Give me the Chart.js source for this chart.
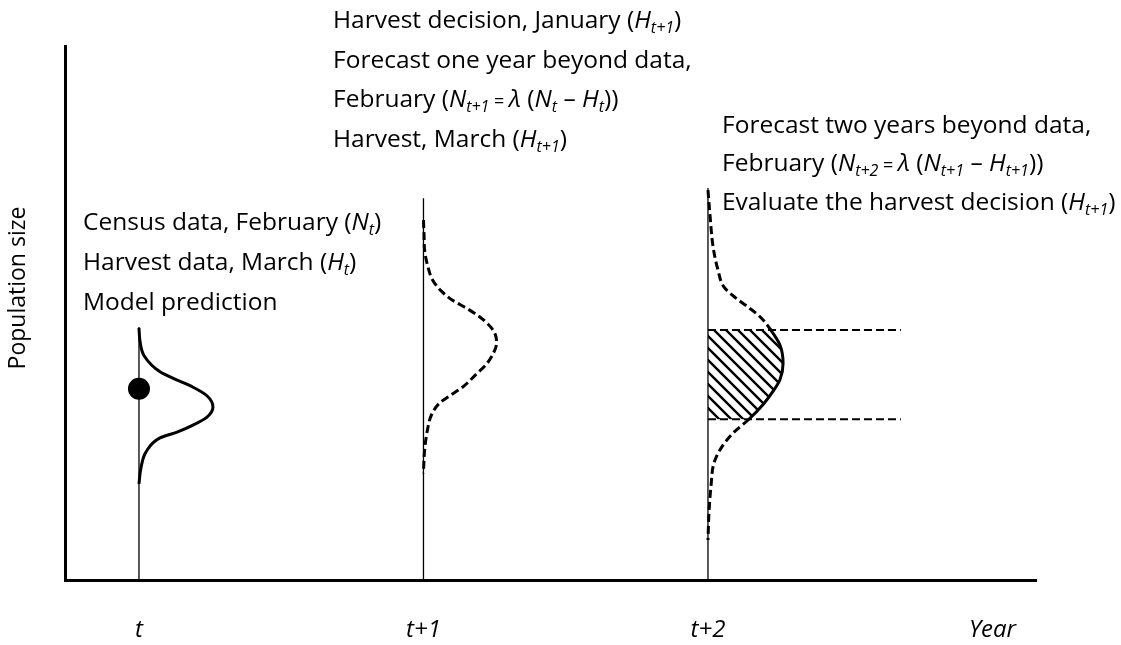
<!DOCTYPE html>
<html><head><meta charset="utf-8">
<script src="https://cdn.jsdelivr.net/npm/chart.js@4.4.0/dist/chart.umd.min.js"></script>
<style>html,body{margin:0;padding:0;background:#fff;}#wrap{width:1121px;height:645px;position:relative;}</style>
</head><body><div id="wrap"><canvas id="c" width="1121" height="645"></canvas></div>
<script>
// ---- data (x in years after t, y in population units 0..100) ----
const yearTicks = [0, 1, 2, 3];
const yearLabels = ['t', 't+1', 't+2', 'Year'];
const timeLineTops = [47.4, 71.5, 73.4];           // top of each year's vertical line
const censusPoint = [{x: 0, y: 35.8}];
const predictionX = [0, 0.004, 0.018, 0.074, 0.141, 0.19, 0.239, 0.26, 0.239, 0.19, 0.134, 0.074, 0.025, 0.007, 0];
const predictionY = [47.2, 44.6, 42.0, 39.0, 37.3, 36.1, 34.5, 32.4, 30.5, 29.0, 27.7, 26.6, 24.0, 21.0, 18.0];
const forecast1X = [1.000, 1.002, 1.004, 1.014, 1.032, 1.063, 1.102, 1.151, 1.197, 1.236, 1.253, 1.257, 1.246, 1.221, 1.183, 1.137, 1.095, 1.056, 1.028, 1.014, 1.004, 1.000];
const forecast1Y = [67.4, 64.6, 61.8, 59.0, 56.2, 54.1, 52.4, 50.9, 49.3, 47.4, 45.9, 44.4, 42.5, 40.4, 38.4, 36.1, 34.6, 33.1, 30.9, 28.1, 24.3, 20.0];
const forecast2X = [2.000, 2.007, 2.018, 2.035, 2.056, 2.098, 2.141, 2.183, 2.221, 2.253, 2.264, 2.253, 2.232, 2.193, 2.144, 2.088, 2.046, 2.021, 2.011, 2.004, 2.000];
const forecast2Y = [73.0, 68.4, 62.4, 58.1, 54.9, 52.8, 51.1, 49.3, 46.8, 44.0, 40.6, 37.5, 35.6, 32.8, 30.1, 27.5, 24.7, 21.9, 17.8, 13.1, 7.5];
const harvestBounds = [30.1, 46.8];   // lower, upper population bound of the evaluated harvest
const boundEndX = 2.678;

const toPts = (xs, ys) => xs.map((x, i) => ({x, y: ys[i]}));
const prediction = toPts(predictionX, predictionY);
const forecast1 = toPts(forecast1X, forecast1Y);
const forecast2 = toPts(forecast2X, forecast2Y);
const [lo, hi] = harvestBounds;
const hatchPoly = forecast2.filter(p => p.y >= lo - 1e-6 && p.y <= hi + 1e-6)
  .concat([{x: 2, y: lo}, {x: 2, y: hi}]);

// hatch pattern
const pc = document.createElement('canvas'); pc.width = 12; pc.height = 12;
const pg = pc.getContext('2d');
pg.strokeStyle = '#000'; pg.lineWidth = 2.4;
pg.beginPath();
pg.moveTo(-2, -2); pg.lineTo(14, 14);
pg.moveTo(10, -2); pg.lineTo(14, 2);
pg.moveTo(-2, 10); pg.lineTo(2, 14);
pg.stroke();
const hatch = pg.createPattern(pc, 'repeat');

const FONT = "'Open Sans'";
const base = {showLine: true, pointRadius: 0, pointHoverRadius: 0, borderColor: '#000', backgroundColor: '#000', fill: false};
const curve = {indexAxis: 'y', cubicInterpolationMode: 'monotone'};

const datasets = [
  Object.assign({}, base, {label: 'hatch', data: hatchPoly, borderWidth: 0, fill: 'shape', backgroundColor: hatch, tension: 0, order: 10}),
];
yearTicks.slice(0, 3).forEach((yr, i) => {
  datasets.push(Object.assign({}, base, {label: 'year' + i, data: [{x: yr, y: 0}, {x: yr, y: timeLineTops[i]}], borderWidth: 1.3, order: 6}));
});
harvestBounds.forEach((b, i) => {
  datasets.push(Object.assign({}, base, {label: 'bound' + i, data: [{x: 2, y: b}, {x: boundEndX, y: b}], borderWidth: 2, borderDash: [8, 4], order: 5}));
});
datasets.push(Object.assign({}, base, curve, {label: 'prediction', data: prediction, borderWidth: 3, order: 3}));
datasets.push(Object.assign({}, base, curve, {label: 'forecast1', data: forecast1, borderWidth: 3, borderDash: [8, 4], order: 3}));
datasets.push(Object.assign({}, base, curve, {label: 'forecast2', data: forecast2, borderWidth: 3, borderDash: [8, 4], order: 3,
  segment: {borderDash: ctx => {
    const a = ctx.p0.parsed.y, b = ctx.p1.parsed.y;
    return (Math.min(a, b) >= lo - 1e-6 && Math.max(a, b) <= hi + 1e-6) ? [] : undefined;
  }}}));
datasets.push({label: 'census', data: censusPoint, showLine: false, pointRadius: 11, pointHoverRadius: 11, backgroundColor: '#000', borderColor: '#000', borderWidth: 0, order: 1});

// ---- annotation text ----
const blocks = [
  {x: 83, baselines: [230, 270, 310], lines: [
    [['Census data, February (', ''], ['N', 'i'], ['t', 's'], [')', '']],
    [['Harvest data, March (', ''], ['H', 'i'], ['t', 's'], [')', '']],
    [['Model prediction', '']]
  ]},
  {x: 333, baselines: [28, 68, 107, 147], lines: [
    [['Harvest decision, January (', ''], ['H', 'i'], ['t+1', 's'], [')', '']],
    [['Forecast one year beyond data,', '']],
    [['February (', ''], ['N', 'i'], ['t+1', 's'], [' = ', 'e'], ['λ', 'i'], [' (', ''], ['N', 'i'], ['t', 's'], [' – ', ''], ['H', 'i'], ['t', 's'], ['))', '']],
    [['Harvest, March (', ''], ['H', 'i'], ['t+1', 's'], [')', '']]
  ]},
  {x: 722, baselines: [133, 171, 210], lines: [
    [['Forecast two years beyond data,', '']],
    [['February (', ''], ['N', 'i'], ['t+2', 's'], [' = ', 'e'], ['λ', 'i'], [' (', ''], ['N', 'i'], ['t+1', 's'], [' – ', ''], ['H', 'i'], ['t+1', 's'], ['))', '']],
    [['Evaluate the harvest decision (', ''], ['H', 'i'], ['t+1', 's'], [')', '']]
  ]}
];
const FS = 24.5;
const textPlugin = {
  id: 'texts',
  afterDraw(chart) {
    const ctx = chart.ctx;
    ctx.save();
    ctx.fillStyle = '#000';
    ctx.textBaseline = 'alphabetic';
    ctx.textAlign = 'left';
    blocks.forEach(b => {
      b.lines.forEach((line, li) => {
        let x = b.x; const y = b.baselines[li];
        line.forEach(([txt, st]) => {
          let dy = 0;
          if (st === 'i') ctx.font = 'italic ' + FS + 'px ' + FONT;
          else if (st === 's') { ctx.font = 'italic 16px ' + FONT; dy = 5; }
          else if (st === 'e') ctx.font = '18px ' + FONT;
          else ctx.font = FS + 'px ' + FONT;
          ctx.fillText(txt, x, y + dy);
          x += ctx.measureText(txt).width;
        });
      });
    });
    ctx.translate(18, 288);
    ctx.rotate(-Math.PI / 2);
    ctx.textAlign = 'center'; ctx.textBaseline = 'middle';
    ctx.font = '23px ' + FONT;
    ctx.fillText('Population size', 0, 0);
    ctx.restore();
  }
};

new Chart(document.getElementById('c'), {
  type: 'scatter',
  data: {datasets},
  options: {
    responsive: false, animation: false, devicePixelRatio: 1,
    layout: {padding: {left: 65, top: 46, right: 85, bottom: 0}},
    plugins: {legend: {display: false}, tooltip: {enabled: false}},
    scales: {
      x: {
        type: 'linear', min: -0.26, max: 3.153,
        grid: {display: false, drawTicks: false},
        border: {display: true, color: '#000', width: 3},
        afterBuildTicks: s => { s.ticks = yearTicks.map(v => ({value: v})); },
        afterFit: s => { s.height = 65; },
        ticks: {color: '#000', font: {family: FONT, size: 24, style: 'italic'}, padding: 36, maxRotation: 0, autoSkip: false,
          callback: v => { const i = yearTicks.indexOf(v); return i >= 0 ? yearLabels[i] : ''; }}
      },
      y: {
        type: 'linear', min: 0, max: 100,
        grid: {display: false, drawTicks: false},
        border: {display: true, color: '#000', width: 3},
        ticks: {display: false},
        afterFit: s => { s.width = 0; }
      }
    }
  },
  plugins: [textPlugin]
});
</script></body></html>
